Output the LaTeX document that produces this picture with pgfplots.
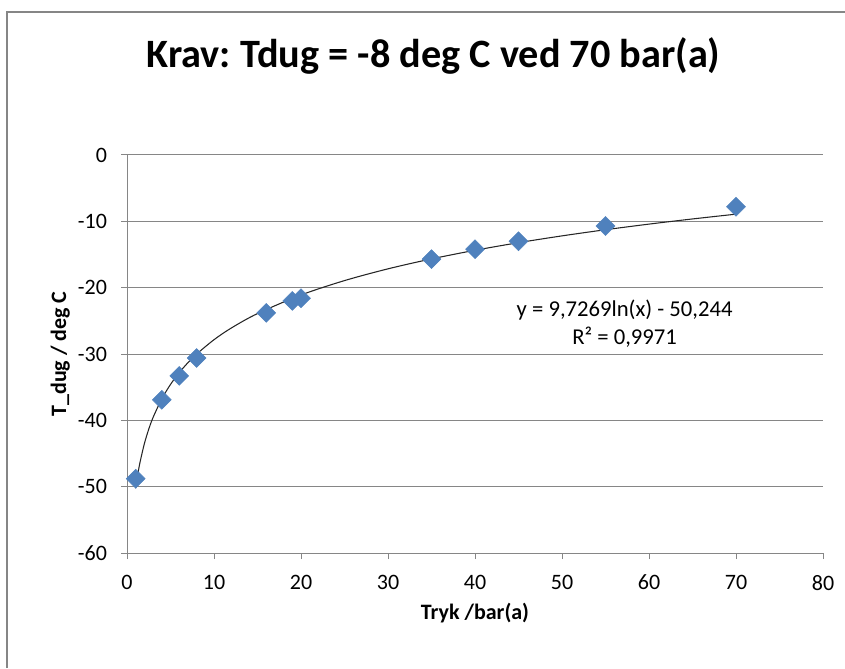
\documentclass[border=0pt]{standalone}
\usepackage{pgfplots}
\pgfplotsset{compat=1.18}
\usepackage{fontspec}
\setmainfont{Carlito}
\frenchspacing
\definecolor{gridgray}{HTML}{868686}
\definecolor{exblue}{HTML}{4F81BD}
\begin{document}
\begin{tikzpicture}
\useasboundingbox (0,0) rectangle (633.75pt,501pt);
\draw[gridgray, line width=1.5pt] (5.25pt,0pt) -- (5.25pt,492pt);
\draw[gridgray, line width=1.5pt] (4.5pt,492pt) -- (633.75pt,492pt);
\node[anchor=base, font=\fontsize{30.2}{35}\selectfont\bfseries] at (325.1pt,450pt) {Krav: Tdug = -8 deg C ved 70 bar(a)};
\begin{axis}[
  at={(95.25pt,86.25pt)}, anchor=south west,
  scale only axis, width=522pt, height=298.5pt,
  xmin=0, xmax=80, ymin=-60, ymax=0,
  xtick={0,10,...,80}, ytick={-60,-50,...,0},
  xticklabels={0,10,20,30,40,50,60,70,80},
  yticklabels={-60,-50,-40,-30,-20,-10,0},
  axis x line=bottom, axis y line=left,
  axis line style={-, gridgray, line width=0.75pt},
  tick align=outside, major tick length=4.5pt,
  tick style={gridgray, line width=0.75pt},
  ymajorgrids, major grid style={gridgray, line width=0.75pt},
  ticklabel style={font=\fontsize{16.5}{19}\selectfont},
  xticklabel style={yshift=-8.5pt},
  yticklabel style={xshift=-7pt},
  xlabel={\bfseries Tryk /bar(a)},
  ylabel={\bfseries T\_dug / deg C},
  label style={font=\fontsize{16.5}{19}\selectfont},
  xlabel style={yshift=-3pt},
  ylabel style={yshift=-0.75pt},
  clip=false,
]
\addplot[black!85, line width=0.8pt, smooth] coordinates {
(1,-50.244) (1.25,-48.074) (1.5,-46.300) (2,-43.502) (2.5,-41.331) (3,-39.558) (4,-36.760) (5,-34.589) (6,-32.816) (7,-31.316) (8,-30.017) (10,-27.847) (12,-26.074) (15,-23.903) (20,-21.105) (25,-18.934) (30,-17.161) (35,-15.662) (40,-14.363) (45,-13.217) (50,-12.192) (55,-11.265) (60,-10.419) (65,-9.640) (70,-8.919)
};
\addplot[only marks, mark=square*, mark size=5pt, mark options={rotate=45, fill=exblue, draw=exblue}] coordinates {
(1,-48.8) (4,-36.9) (6,-33.3) (8,-30.6) (16,-23.8) (19,-22.0) (20,-21.6) (35,-15.7) (40,-14.2) (45,-13.0) (55,-10.7) (70,-7.8)
};
\node[align=center, font=\fontsize{17}{21}\selectfont] at (axis cs:57.2,-25.4) {y = 9,7269ln(x) - 50,244\\R² = 0,9971};
\end{axis}
\end{tikzpicture}
\end{document}
